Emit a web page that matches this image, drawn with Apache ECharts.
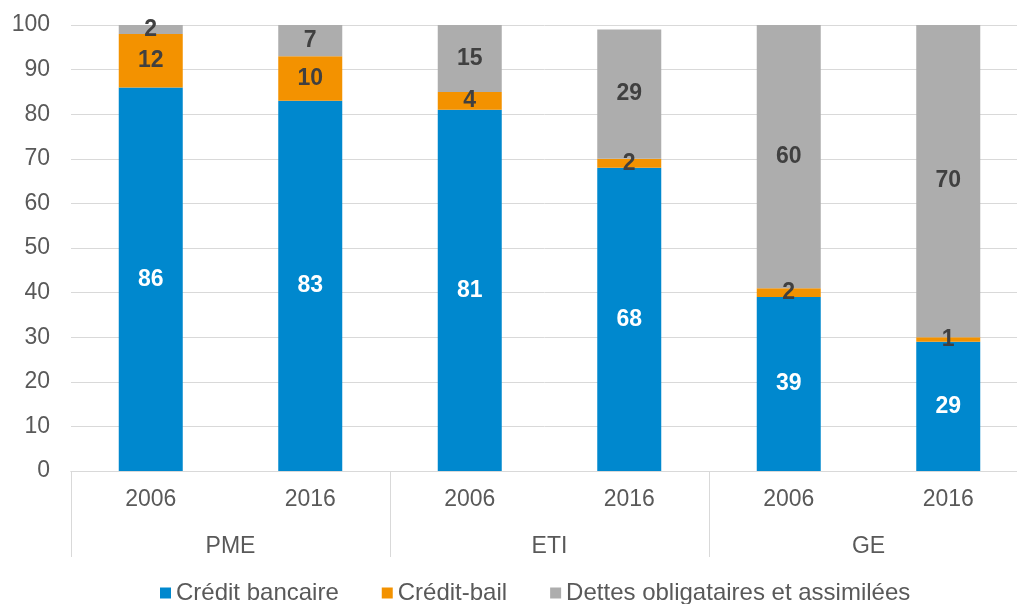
<!DOCTYPE html>
<html><head><meta charset="utf-8">
<script src="https://cdn.jsdelivr.net/npm/echarts@6/dist/echarts.min.js"></script>
<style>html,body{margin:0;padding:0;background:#fff}#c{width:1017px;height:604px}</style>
</head><body><div id="c"></div>
<script>
var years = ['2006','2016','2006','2016','2006','2016'];
var groups = ['PME','ETI','GE'];
var creditBancaire = [86, 83, 81, 68, 39, 29];
var creditBail = [12, 10, 4, 2, 2, 1];
var dettes = [2, 7, 15, 29, 60, 70];
var seriesNames = ['Crédit bancaire','Crédit-bail','Dettes obligataires et assimilées'];
var colors = ['#0088CE','#F39200','#ADADAD'];
var font = "'Liberation Sans', Arial, sans-serif";

var chart = echarts.init(document.getElementById('c'));
function mk(name, data, color, labelColor) {
  return {
    name: name, type: 'bar', stack: 'total', data: data, barWidth: 64,
    itemStyle: {color: color},
    label: {show: true, position: 'inside', color: labelColor, fontFamily: font, fontWeight: 'bold', fontSize: 23},
    xAxisIndex: 0
  };
}
chart.setOption({
  animation: false,
  color: colors,
  grid: {left: 71, width: 957, top: 25, bottom: 133, outerBoundsMode: 'none', containLabel: false},
  legend: {
    top: 576, left: 155, itemWidth: 11, itemHeight: 11, itemGap: 43,
    icon: 'rect',
    textStyle: {color: '#595959', fontFamily: font, fontSize: 24},
    data: seriesNames
  },
  xAxis: [
    {type: 'category', data: years, position: 'bottom',
     axisLine: {lineStyle: {color: '#D9D9D9'}},
     axisTick: {show: false},
     axisLabel: {color: '#595959', fontFamily: font, fontSize: 23, margin: 17}},
    {type: 'category', data: groups, position: 'bottom',
     axisLine: {show: true, lineStyle: {color: '#D9D9D9'}},
     axisTick: {show: true, length: 86, lineStyle: {color: '#D9D9D9'}},
     axisLabel: {color: '#595959', fontFamily: font, fontSize: 23, margin: 64}}
  ],
  yAxis: {type: 'value', min: 0, max: 100, interval: 10,
    axisLine: {show: false}, axisTick: {show: false},
    splitLine: {lineStyle: {color: '#D9D9D9'}},
    axisLabel: {color: '#595959', fontFamily: font, fontSize: 23, margin: 21}},
  series: [
    mk(seriesNames[0], creditBancaire, colors[0], '#FFFFFF'),
    mk(seriesNames[1], creditBail, colors[1], '#404040'),
    mk(seriesNames[2], dettes, colors[2], '#404040')
  ]
});
</script></body></html>
